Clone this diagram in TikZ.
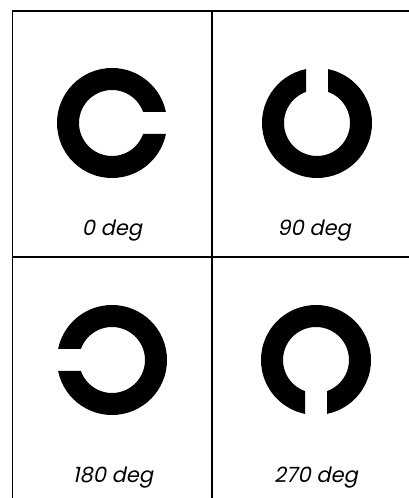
\documentclass[tikz,border=0pt]{standalone}
\usepackage{fontspec}
\newfontfamily\degfont{Poppins}[FakeSlant=0.2]
\tikzset{
	frame/.style={line width=1.6pt, black},
	lbl/.style={font=\degfont\fontsize{21}{21}\selectfont, anchor=base, inner sep=0pt},
	landolt/.pic={
		\fill[black] (11.54:55) arc[start angle=11.54, end angle=348.46, radius=55]
			-- (340.53:33) arc[start angle=340.53, end angle=19.47, radius=33] -- cycle;
	},
}
\begin{document}
\begin{tikzpicture}[x=1pt, y=1pt]
	\useasboundingbox (0,0) rectangle (409,498);
	% grid
	\draw[frame] (12.5,0) -- (12.5,487) -- (409,487);
	\draw[frame, line width=1.3pt] (212,0) -- (212,487);
	\draw[frame, line width=1.3pt] (12.5,241) -- (409,241);

	% rings
	\pic at (112,375) {landolt};
	\pic[rotate=90] at (317,375) {landolt};
	\pic[rotate=180] at (112,138) {landolt};
	\pic[rotate=270] at (316,138) {landolt};

	% labels
	\node[lbl] (l0) at (112,262) {0 deg};
	\node[lbl] (l90) at (314,262) {90 deg};
	\node[lbl] (l180) at (113,16) {180 deg};
	\node[lbl] (l270) at (316,16) {270 deg};
\end{tikzpicture}
\end{document}
